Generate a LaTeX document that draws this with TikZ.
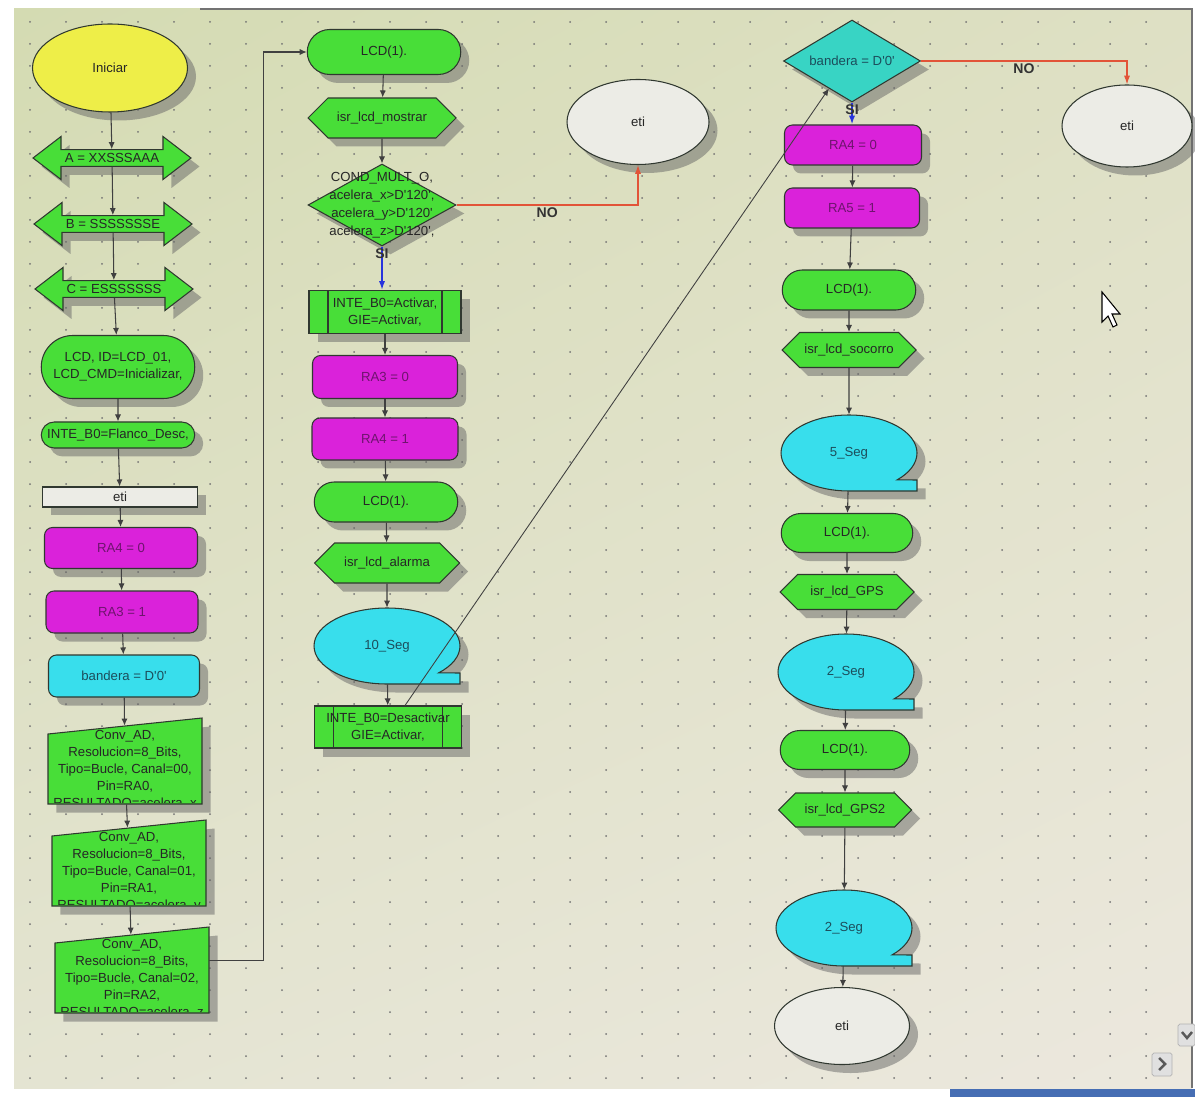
\documentclass[tikz,border=0pt]{standalone}
\usepackage{fontspec}
\setmainfont{Liberation Sans}
\usetikzlibrary{shapes.geometric,shapes.misc,shapes.arrows,shapes.symbols,shadows,shadings,arrows.meta}

\definecolor{pantallaA}{RGB}{212,219,178}
\definecolor{pantallaB}{RGB}{222,224,196}
\definecolor{pantallaC}{RGB}{228,228,210}
\definecolor{pantallaD}{RGB}{236,232,222}
\definecolor{verdeflujo}{RGB}{72,222,56}
\definecolor{amarillo}{RGB}{238,238,72}
\definecolor{calcmag}{RGB}{218,34,218}
\definecolor{cian}{RGB}{56,222,236}
\definecolor{cianrombo}{RGB}{56,212,196}
\definecolor{etigris}{RGB}{236,236,230}
\definecolor{borde}{RGB}{48,56,48}
\definecolor{rojono}{RGB}{226,84,56}
\definecolor{azulsi}{RGB}{40,52,220}
\definecolor{textomag}{RGB}{110,20,110}
\definecolor{textocian}{RGB}{28,78,92}
\definecolor{barra}{RGB}{70,110,180}

\newcommand\ap{\textquotesingle}

\tikzset{
  flow/.style={draw=borde, line width=0.6pt, align=center, inner sep=1pt,
    font=\fontsize{7.5}{9.7}\selectfont, text=black!85,
    drop shadow={shadow xshift=0.17cm, shadow yshift=-0.17cm, fill=black!60, opacity=0.5}},
  sz/.style 2 args={minimum width=#1*0.02cm, minimum height=#2*0.02cm},
  startbox/.style={flow, ellipse, fill=amarillo},
  portbox/.style={flow, double arrow, fill=verdeflujo, double arrow head extend=0.22cm,
    double arrow tip angle=75, minimum height=158*0.02cm, minimum width=43*0.02cm},
  compbox/.style={flow, rounded rectangle, fill=verdeflujo},
  isrbox/.style={flow, signal, signal to=west and east, signal pointer angle=90, fill=verdeflujo},
  calcbox/.style={flow, rectangle, rounded corners=0.16cm, fill=calcmag, text=textomag},
  flagbox/.style={flow, rectangle, rounded corners=0.16cm, fill=cian, text=textocian},
  labelbox/.style={flow, rectangle, fill=etigris},
  etibox/.style={flow, ellipse, fill=etigris},
  condbox/.style={flow, diamond, fill=verdeflujo},
  condtext/.style={font=\fontsize{7.5}{10.2}\selectfont, text=black!85, align=center, inner sep=0pt},
  subbox/.style={flow, rectangle, fill=verdeflujo, path picture={
    \draw[borde, line width=0.6pt]
      ([xshift=0.38cm]path picture bounding box.north west) -- ([xshift=0.38cm]path picture bounding box.south west)
      ([xshift=-0.38cm]path picture bounding box.north east) -- ([xshift=-0.38cm]path picture bounding box.south east);}},
  segtext/.style={ellipse, inner sep=0pt, font=\fontsize{7.5}{9.7}\selectfont, text=textocian},
  convarea/.style={rectangle, inner sep=0pt},
  convtext/.style={align=center, inner sep=0pt, font=\fontsize{7.5}{9.7}\selectfont, text=black!85},
  link/.style={draw=black!75, line width=0.6pt, -{Latex[length=4pt,width=3.5pt]}},
  nolink/.style={draw=rojono, line width=0.7pt, -{Latex[length=5pt,width=3.5pt]}},
  silink/.style={draw=azulsi, line width=0.9pt, -{Latex[length=5pt,width=3.5pt]}},
  etiq/.style={font=\fontsize{8}{9}\selectfont\bfseries, text=black!80, inner sep=1pt},
}

% retardo: elipse con pestana abajo a la derecha
\newcommand\retardo[5]{%
  \path[flow, fill=cian] (#2,#3+38) arc[start angle=90, end angle=405, x radius=#4, y radius=38]
    -- (#2+#4,#3+27) -- (#2+#4,#3+38) -- cycle;
  \node[segtext, minimum width=2*#4*0.02cm, minimum height=76*0.02cm] (#1) at (#2,#3) {#5};
}
% entrada manual Conv_AD
\newcommand\conversor[6]{%
  \path[flow, fill=verdeflujo] (#2-77,#3-32) -- (#2+77,#3-48) -- (#2+77,#3+38) -- (#2-77,#3+38) -- cycle;
  \node[convarea, sz={154}{78}] (#1) at (#2,#3-1) {};
  \begin{scope}
    \clip (#2-77,#3-70) rectangle (#2+77,#3+36);
    \node[convtext] (#1txt) at (#2,#3+4) {Conv\_AD,\\Resolucion=8\_Bits,\\Tipo=Bucle, Canal=#4,\\Pin=#5,\\RESULTADO=acelera\_#6};
  \end{scope}
}

\begin{document}
\begin{tikzpicture}[x=0.02cm, y=-0.02cm]
\useasboundingbox (0,0) rectangle (1195,1097);
\fill[white] (0,0) rectangle (1195,1097);
\shade[upper left=pantallaA, upper right=pantallaB, lower left=pantallaC, lower right=pantallaD] (14,9) rectangle (1192,1088);
\fill[barra] (950,1089) rectangle (1195,1097);
\draw[black!55, line width=0.8pt] (200,9) -- (1192,9) -- (1192,1088);
\foreach \x in {30,66,...,1180}
  \foreach \y in {22,44,...,1080}
    \fill[black!55] (\x,\y) circle[radius=1];

% columna 1
\node[startbox, sz={155}{88}] (inicio) at (110,68) {Iniciar};
\node[portbox] (puertoA) at (112,158) {A = XXSSSAAA};
\node[portbox] (puertoB) at (113,224) {B = SSSSSSSE};
\node[portbox] (puertoC) at (114,289) {C = ESSSSSSS};
\node[compbox, sz={157}{63}] (lcdinit) at (118,367) {LCD, ID=LCD\_01,\\LCD\_CMD=Inicializar,};
\node[compbox, sz={157}{26}] (inte0) at (118,435) {INTE\_B0=Flanco\_Desc,};
\node[labelbox, sz={155}{20}] (eti0) at (120,497) {eti};
\node[calcbox, sz={153}{41}] (ra4a) at (121,548) {RA4 = 0};
\node[calcbox, sz={152}{42}] (ra3a) at (122,612) {RA3 = 1};
\node[flagbox, sz={151}{42}] (band0) at (124,676) {bandera = D\ap0\ap};
\conversor{conv1}{125}{766}{00}{RA0}{x}
\conversor{conv2}{129}{868}{01}{RA1}{y}
\conversor{conv3}{132}{975}{02}{RA2}{z}

% columna 2
\node[compbox, sz={157}{45}] (lcdA) at (384,52) {LCD(1).};
\node[isrbox, sz={148}{40}] (isrA) at (382,118) {isr\_lcd\_mostrar};
\node[condbox, sz={148}{82}, label={[condtext, name=condtxt]center:COND\_MULT\_O,\\acelera\_x>D\ap120\ap,\\acelera\_y>D\ap120\ap\\acelera\_z>D\ap120\ap,}] (cond) at (382,205) {};
\node[etibox, sz={142}{85}] (etiA) at (638,122) {eti};
\node[subbox, sz={152}{43}] (inteA) at (385,312) {INTE\_B0=Activar,\\GIE=Activar,};
\node[calcbox, sz={145}{43}] (ra3b) at (385,377) {RA3 = 0};
\node[calcbox, sz={146}{42}] (ra4b) at (385,439) {RA4 = 1};
\node[compbox, sz={147}{40}] (lcdB) at (386,502) {LCD(1).};
\node[isrbox, sz={145}{40}] (isrB) at (387,563) {isr\_lcd\_alarma};
\retardo{seg10}{387}{646}{73}{10\_Seg}
\node[subbox, sz={147}{42}] (inteB) at (388,727) {INTE\_B0=Desactivar\\GIE=Activar,};

% columna 3
\node[condbox, fill=cianrombo, sz={137}{82}, label={[condtext, text=textocian, name=bandtxt]center:bandera = D\ap0\ap}] (bandera1) at (852,61) {};
\node[etibox, sz={130}{82}] (etiB) at (1127,126) {eti};
\node[calcbox, sz={137}{40}] (ra4c) at (853,145) {RA4 = 0};
\node[calcbox, sz={135}{40}] (ra5c) at (852,208) {RA5 = 1};
\node[compbox, sz={137}{40}] (lcdC) at (849,290) {LCD(1).};
\node[isrbox, sz={134}{35}] (isrC) at (849,350) {isr\_lcd\_socorro};
\retardo{seg5}{849}{453}{68}{5\_Seg}
\node[compbox, sz={135}{39}] (lcdD) at (847,533) {LCD(1).};
\node[isrbox, sz={134}{35}] (isrD) at (847,592) {isr\_lcd\_GPS};
\retardo{seg2a}{846}{672}{68}{2\_Seg}
\node[compbox, sz={133}{39}] (lcdE) at (845,750) {LCD(1).};
\node[isrbox, sz={133}{34}] (isrE) at (845,810) {isr\_lcd\_GPS2};
\retardo{seg2b}{844}{928}{68}{2\_Seg}
\node[etibox, sz={135}{77}] (etiC) at (842,1026) {eti};

% conexiones
\foreach \a/\b in {inicio/puertoA, puertoA/puertoB, puertoB/puertoC, puertoC/lcdinit, lcdinit/inte0,
    inte0/eti0, eti0/ra4a, ra4a/ra3a, ra3a/band0, band0/conv1, conv1/conv2, conv2/conv3,
    lcdA/isrA, isrA/cond, inteA/ra3b, ra3b/ra4b, ra4b/lcdB, lcdB/isrB, isrB/seg10, seg10/inteB,
    ra4c/ra5c, ra5c/lcdC, lcdC/isrC, isrC/seg5, seg5/lcdD, lcdD/isrD, isrD/seg2a, seg2a/lcdE,
    lcdE/isrE, isrE/seg2b, seg2b/etiC}
  \draw[link] (\a) -- (\b);
\draw[link] (conv3.10) -- ++(54,0) |- (lcdA.west);
\draw[nolink] (cond.east) -| node[etiq, pos=0.25, below] (noA) {NO} (etiA.south);
\draw[silink] (cond.south) -- node[etiq, pos=0, below] (siA) {SI} (cond.south |- inteA.north);
\draw[link, line width=0.5pt] ([xshift=0.34cm]inteB.north) -- (bandera1.230);
\draw[nolink] (bandera1.east) -| node[etiq, pos=0.25, below] (noB) {NO} (etiB.north);
\draw[silink] (bandera1.south) -- node[etiq, pos=0, below] (siB) {SI} (bandera1.south |- ra4c.north);

% cursor y botones de desplazamiento
\filldraw[fill=white, draw=black, line width=0.6pt] (1102,292) -- (1102,322) -- (1108,316) -- (1113,327) -- (1117,325) -- (1112,314) -- (1120,314) -- cycle;
\filldraw[fill=black!12, draw=black!30, rounded corners=1pt] (1178,1024) rectangle (1195,1046);
\draw[black!65, line width=1.4pt] (1182,1032) -- (1187,1038) -- (1192,1032);
\filldraw[fill=black!12, draw=black!30, rounded corners=1pt] (1152,1053) rectangle (1172,1076);
\draw[black!65, line width=1.4pt] (1159,1058) -- (1165,1064) -- (1159,1070);
\end{tikzpicture}
\end{document}
